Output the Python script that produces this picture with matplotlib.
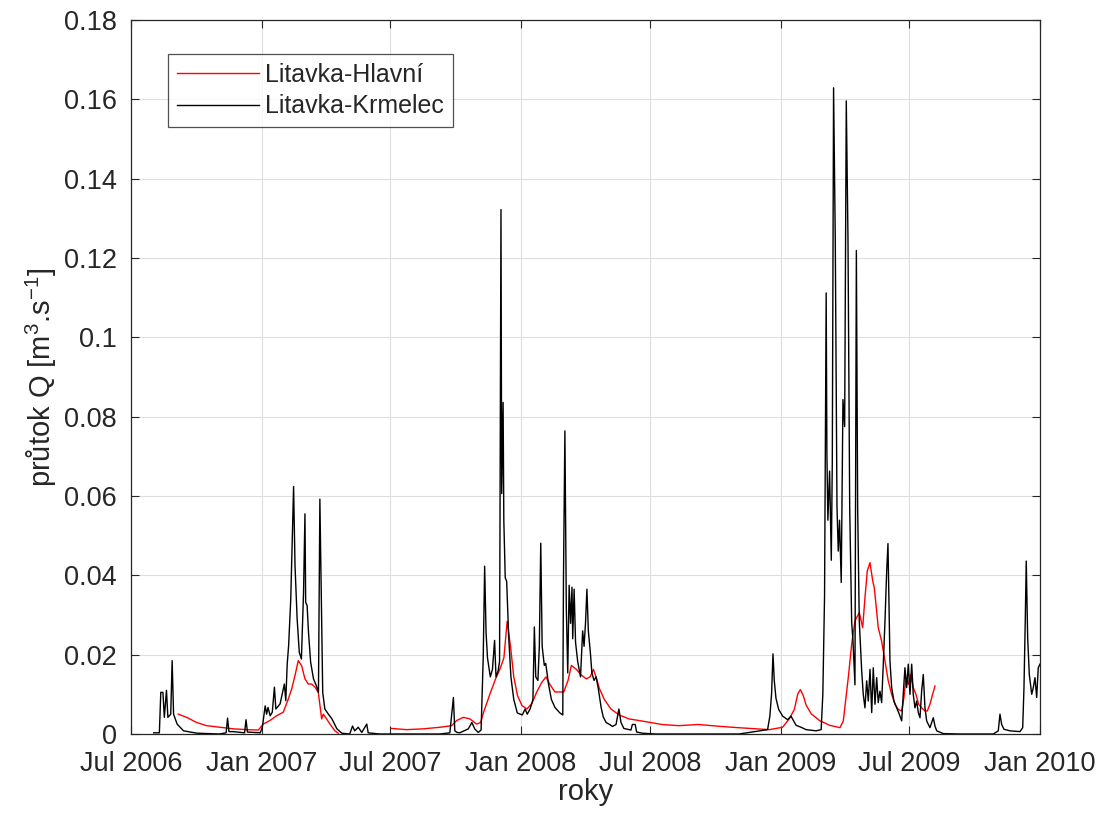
import matplotlib
matplotlib.use("Agg")
import matplotlib.pyplot as plt
import matplotlib.dates as mdates
import numpy as np
import pandas as pd

plt.rcParams["font.family"] = ["Liberation Sans", "DejaVu Sans"]
plt.rcParams["mathtext.fontset"] = "custom"
plt.rcParams["mathtext.rm"] = "Liberation Sans"
plt.rcParams["mathtext.default"] = "regular"

START = pd.Timestamp("2006-07-01")

# Litavka-Krmelec: days since 1 Jul 2006, discharge [m3/s]
krmelec_days = [
    32, 40, 42, 45, 47, 50, 52, 56, 58, 60, 65, 74, 93, 125, 134, 136, 138, 144,
    160, 162, 164, 182, 185, 189, 191, 193, 196, 199, 202, 204, 210, 216, 218,
    220, 222, 225, 229, 231, 234, 237, 240, 243, 245, 246, 248, 250, 253, 257,
    261, 264, 266, 268, 270, 273, 278, 283, 290, 297, 308, 312, 315, 320, 325,
    332, 334, 350, 388, 435, 449, 454, 456, 459, 463, 475, 480, 484, 489, 493,
    496, 498, 500, 502, 506, 509, 512, 514, 517, 519, 521, 522, 524, 525, 527,
    529, 532, 535, 539, 544, 551, 555, 558, 562, 566, 568, 570, 573, 575, 577,
    579, 582, 584, 588, 592, 597, 604, 608, 609, 611, 613, 615, 617, 619, 621,
    622, 624, 626, 629, 633, 636, 638, 640, 642, 644, 647, 649, 652, 655, 658,
    662, 665, 669, 674, 678, 683, 687, 690, 694, 704, 706, 710, 712, 720, 738,
    856.2, 896.4, 899.6, 902.0, 904.0, 905.8, 908.2, 912.0, 917.6, 924.7, 929.3,
    932.7, 936.5, 943.5, 950.6, 964.8, 971.8, 974.2, 976.6, 978.9, 979.9, 981.3,
    983.7, 986.1, 987.5, 989.3, 991.7, 994.1, 995.9, 997.7, 1000.1, 1002.5,
    1004.9, 1007.2, 1009.6, 1012.0, 1014.8, 1016.6, 1019.4, 1021.4, 1023.2,
    1025.5, 1028.9, 1031.1, 1033.5, 1035.9, 1038.2, 1040.6, 1043.0, 1045.2,
    1047.6, 1050.0, 1052.2, 1054.6, 1057.0, 1059.3, 1061.7, 1064.1, 1065.9,
    1067.3, 1068.7, 1071.1, 1074.3, 1078.1, 1081.8, 1085.2, 1087.4, 1089.8,
    1092.2, 1094.5, 1096.9, 1099.3, 1101.5, 1103.9, 1106.3, 1108.6, 1111.0,
    1113.3, 1115.6, 1118.0, 1120.4, 1125.0, 1129.7, 1132.1, 1134.5, 1143.8,
    1167.3, 1214.2, 1221.2, 1223.6, 1226.0, 1229.2, 1237.7, 1251.8, 1255.6,
    1257.4, 1259.2, 1260.6, 1262.6, 1264.9, 1268.3, 1270.5, 1272.9, 1275.3,
    1277.5, 1279.9,
]
krmelec_q = [
    0.0003, 0.0003, 0.0105, 0.0105, 0.0042, 0.011, 0.0042, 0.005, 0.0185, 0.005,
    0.0025, 0.0008, 0.0002, 0.0, 0.0003, 0.004, 0.0006, 0.0006, 0.0003, 0.0036,
    0.0005, 0.0003, 0.0017, 0.0071, 0.005, 0.0067, 0.0046, 0.0055, 0.0118,
    0.0063, 0.0076, 0.0126, 0.0084, 0.0176, 0.0223, 0.034, 0.0624, 0.0424,
    0.029, 0.0206, 0.0189, 0.0357, 0.0555, 0.0332, 0.0324, 0.0256, 0.0181,
    0.0139, 0.0122, 0.0105, 0.0592, 0.034, 0.0105, 0.0063, 0.005, 0.0038,
    0.0013, 0.0002, 0.0, 0.002, 0.0008, 0.0017, 0.0004, 0.0025, 0.0003, 0.0,
    0.0, 0.0, 0.0003, 0.0092, 0.0008, 0.0004, 0.0003, 0.0013, 0.0029, 0.0013,
    0.0004, 0.001, 0.0192, 0.0423, 0.0256, 0.0192, 0.0144, 0.0163, 0.0236,
    0.0144, 0.0159, 0.0183, 0.1322, 0.0606, 0.0836, 0.0538, 0.0394, 0.0385,
    0.024, 0.0144, 0.0087, 0.0053, 0.0048, 0.0063, 0.005, 0.0063, 0.0087,
    0.027, 0.0144, 0.0135, 0.0221, 0.0481, 0.0221, 0.0173, 0.0178, 0.0125,
    0.0087, 0.0067, 0.0053, 0.0048, 0.0394, 0.0764, 0.0317, 0.0154, 0.0375,
    0.0279, 0.037, 0.024, 0.0365, 0.0231, 0.0183, 0.0144, 0.026, 0.0221,
    0.0279, 0.0365, 0.026, 0.0202, 0.0154, 0.0135, 0.0144, 0.0115, 0.0067,
    0.0043, 0.0029, 0.0024, 0.0019, 0.0024, 0.0063, 0.0029, 0.0014, 0.001,
    0.0024, 0.0024, 0.0005, 0.0002, 0.0,
    0.0, 0.0011, 0.0045, 0.0101, 0.0202, 0.0135, 0.009, 0.0062, 0.0045, 0.0036,
    0.0045, 0.0034, 0.0022, 0.0017, 0.0011, 0.0008, 0.0011, 0.0101, 0.0348,
    0.1112, 0.0708, 0.0539, 0.0663, 0.0438, 0.0685, 0.1629, 0.1247, 0.0573,
    0.0461, 0.0539, 0.0382, 0.0843, 0.0775, 0.1596, 0.1247, 0.0573, 0.0281,
    0.0236, 0.0124, 0.1219, 0.0573, 0.0285, 0.0159, 0.01, 0.0066, 0.0134,
    0.0083, 0.0163, 0.0054, 0.0167, 0.0075, 0.0142, 0.0079, 0.0108, 0.0079,
    0.0176, 0.0285, 0.0411, 0.048, 0.0327, 0.0184, 0.0117, 0.0083, 0.0066,
    0.005, 0.0033, 0.01, 0.0167, 0.0117, 0.0176, 0.01, 0.0176, 0.01, 0.0066,
    0.0083, 0.0054, 0.0041, 0.0108, 0.015, 0.0066, 0.0033, 0.0016, 0.0041,
    0.002, 0.0008, 0.0001, 0.0, 0.0, 0.0008, 0.005, 0.0024, 0.0012, 0.0008,
    0.0006, 0.0016, 0.0117, 0.0285, 0.0436, 0.0243, 0.015, 0.01, 0.0117,
    0.0142, 0.0092, 0.0167, 0.0176,
]

# Litavka-Hlavní: days since 1 Jul 2006, discharge [m3/s] (NaN = missing record)
hlavni_days = [
    66.6, 78.4, 92.5, 106.5, 125.3, 144.1, 162.9, 179.3, 186.3, 195.7, 205.1,
    214.5, 221.5, 226.2, 230.9, 235.6, 240.3, 245.0, 249.7, 254.4, 259.1, 263.8,
    268.5, 270.8, 275.5, 280.2, 287.2, 291.9, 330.0,
    367.0, 388.2, 411.6, 435.1, 451.5, 458.6, 468.0, 477.3, 486.7, 492.4, 497.1,
    506.5, 513.4, 519.4, 525.1, 529.7, 534.4, 539.0, 544.4, 550.5, 557.5, 564.5,
    571.4, 578.4, 584.4, 589.9, 596.9, 603.9, 609.4, 615.4, 620.1, 627.1, 634.0,
    641.0, 646.5, 651.2, 654.8, 659.5, 666.5, 675.8, 687.4, 701.3, 715.3, 731.5,
    747.7, 770.9, 798.8, 831.2, 854.4, 898.7, 917.6, 927.1, 934.1, 938.9, 942.6,
    946.8, 950.6, 957.8, 969.5, 983.7, 998.3, 1003.0, 1010.0, 1014.8, 1019.4,
    1025.5, 1030.3, 1033.5, 1036.8, 1040.6, 1044.4, 1046.6, 1049.0, 1052.2,
    1057.0, 1061.7, 1066.3, 1071.1, 1075.8, 1080.4, 1085.2, 1088.4, 1091.3,
    1094.5, 1097.9, 1101.5, 1105.3, 1109.1, 1113.3, 1118.0, 1121.3, 1125.0,
    1128.8, 1132.1,
]
hlavni_q = [
    0.005, 0.0042, 0.0029, 0.0021, 0.0017, 0.0013, 0.0011, 0.001, 0.0025,
    0.0034, 0.0046, 0.0055, 0.0088, 0.0113, 0.0147, 0.0185, 0.0172, 0.0139,
    0.0126, 0.0126, 0.0118, 0.0105, 0.0038, 0.005, 0.0038, 0.0025, 0.0008,
    0.0002, np.nan,
    0.0014, 0.0011, 0.0013, 0.0017, 0.0021, 0.0034, 0.0042, 0.0038, 0.0025,
    0.0029, 0.0058, 0.0106, 0.0139, 0.0163, 0.0192, 0.0284, 0.0221, 0.0144,
    0.0096, 0.0072, 0.0063, 0.0077, 0.0106, 0.013, 0.0144, 0.0125, 0.0106,
    0.0106, 0.0106, 0.0135, 0.0173, 0.0163, 0.0149, 0.0139, 0.0144, 0.0163,
    0.0144, 0.0115, 0.0087, 0.0063, 0.0048, 0.0038, 0.0034, 0.0029, 0.0024,
    0.0021, 0.0024, 0.0019, 0.0016, 0.0011, 0.0017, 0.0039, 0.0062, 0.0101,
    0.0112, 0.0096, 0.0073, 0.0051, 0.0034, 0.0022, 0.0016, 0.0033, 0.0142,
    0.0226, 0.0285, 0.0306, 0.0268, 0.0344, 0.0411, 0.0432, 0.0386, 0.0369,
    0.0327, 0.0268, 0.0234, 0.0184, 0.0134, 0.01, 0.0075, 0.0062, 0.0058,
    0.0092, 0.0142, 0.0125, 0.015, 0.0117, 0.01, 0.0075, 0.0066, 0.0058,
    0.0058, 0.0075, 0.01, 0.0121,
]

tick_dates = ["2006-07-01", "2007-01-01", "2007-07-01", "2008-01-01",
              "2008-07-01", "2009-01-01", "2009-07-01", "2010-01-01"]
y_ticks = [0, 0.02, 0.04, 0.06, 0.08, 0.10, 0.12, 0.14, 0.16, 0.18]

krm_t = START + pd.to_timedelta(krmelec_days, unit="D")
hla_t = START + pd.to_timedelta(hlavni_days, unit="D")

ink = "#262626"
fig = plt.figure(figsize=(11.07, 8.25), dpi=100)
ax = fig.add_axes([0.1183, 0.1103, 0.8212, 0.8655])

ax.plot(hla_t, hlavni_q, color="#ff0000", lw=1.0, label="Litavka-Hlavní")
ax.plot(krm_t, krmelec_q, color="black", lw=1.0, label="Litavka-Krmelec")

ax.set_xlim(pd.Timestamp(tick_dates[0]), pd.Timestamp(tick_dates[-1]))
ax.set_ylim(0, 0.18)
ax.set_xticks(pd.to_datetime(tick_dates))
ax.xaxis.set_major_formatter(mdates.DateFormatter("%b %Y"))
ax.set_yticks(y_ticks)
ax.set_yticklabels([f"{v:g}" for v in y_ticks])

ax.grid(True, color="#dedede", lw=0.8)
ax.set_axisbelow(True)
for sp in ax.spines.values():
    sp.set_color(ink)
    sp.set_linewidth(0.9)
ax.tick_params(direction="in", length=6, width=0.8, color=ink,
               top=True, right=True, labelsize=19.5, labelcolor=ink)
ax.tick_params(axis="x", pad=12)
ax.tick_params(axis="y", pad=10)

ax.set_xlabel("roky", fontsize=21, color=ink, labelpad=1)
ax.set_ylabel("průtok Q [m$^{3}$.s$^{-1}$]", fontsize=21, color=ink, labelpad=4)

leg = ax.legend(loc="upper left", bbox_to_anchor=(0.0407, 0.952),
                borderaxespad=0, fontsize=18, frameon=True, fancybox=False,
                handlelength=3.3, handletextpad=0.25, borderpad=0.35,
                labelspacing=0.3)
leg.get_frame().set_edgecolor(ink)
leg.get_frame().set_linewidth(0.9)
for t in leg.get_texts():
    t.set_color(ink)

fig.savefig("out.png", dpi=100)
